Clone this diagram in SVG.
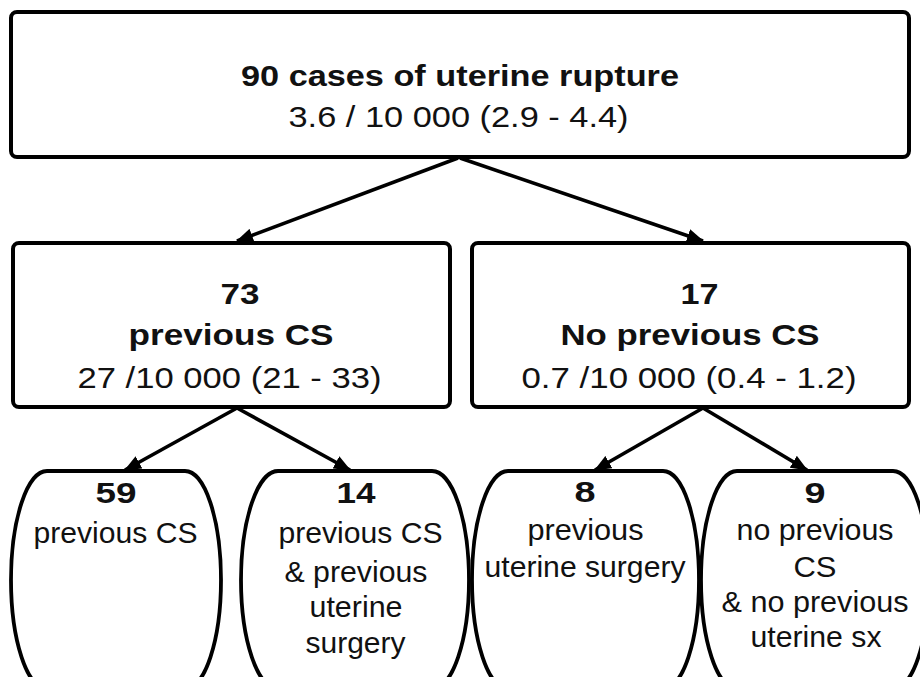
<svg xmlns="http://www.w3.org/2000/svg" width="920" height="677" viewBox="0 0 920 677">
<style>
.box{fill:#fff;stroke:#000;stroke-width:4}
.leaf{fill:#fff;stroke:#000;stroke-width:3.8}
.b{font-family:"Liberation Sans",Arial,sans-serif;font-weight:bold;font-size:30px;fill:#111;text-anchor:middle}
.r{font-family:"Liberation Sans",Arial,sans-serif;font-size:30px;fill:#111;text-anchor:middle}
.s{font-family:"Liberation Sans",Arial,sans-serif;font-size:29px;fill:#111;text-anchor:middle}
.c{stroke:#000;stroke-width:3.6;fill:none;marker-end:url(#ah)}
</style>
<defs>
<marker id="ah" markerUnits="userSpaceOnUse" markerWidth="18" markerHeight="14" refX="16" refY="7" orient="auto">
<path d="M0,0 L17,7 L0,14 z" fill="#000"/>
</marker>
</defs>
<rect width="920" height="677" fill="#fff"/>
<g id="connectors">
<line class="c" x1="458" y1="158" x2="237" y2="241"/>
<line class="c" x1="460" y1="158" x2="703" y2="241"/>
<line class="c" x1="237" y1="408" x2="125" y2="470"/>
<line class="c" x1="237" y1="408" x2="350" y2="470"/>
<line class="c" x1="703" y1="408" x2="595" y2="470"/>
<line class="c" x1="703" y1="408" x2="807" y2="470"/>
</g>
<g id="node-total">
<rect class="box" x="11" y="12" width="898" height="145" rx="6"/>
<text class="b" x="460" y="86" textLength="438" lengthAdjust="spacingAndGlyphs">90 cases of uterine rupture</text>
<text class="r" x="458.5" y="127" textLength="340" lengthAdjust="spacingAndGlyphs">3.6 / 10 000 (2.9 - 4.4)</text>
</g>
<g id="node-prevcs">
<rect class="box" x="13" y="243" width="437" height="164" rx="6"/>
<text class="b" x="240" y="304" textLength="39" lengthAdjust="spacingAndGlyphs">73</text>
<text class="b" x="231" y="345" textLength="205" lengthAdjust="spacingAndGlyphs">previous CS</text>
<text class="r" x="229.5" y="388" textLength="304" lengthAdjust="spacingAndGlyphs">27 /10 000 (21 - 33)</text>
</g>
<g id="node-noprevcs">
<rect class="box" x="472" y="243" width="437" height="164" rx="6"/>
<text class="b" x="699.5" y="304" textLength="38" lengthAdjust="spacingAndGlyphs">17</text>
<text class="b" x="690" y="345" textLength="259" lengthAdjust="spacingAndGlyphs">No previous CS</text>
<text class="r" x="689" y="388" textLength="335" lengthAdjust="spacingAndGlyphs">0.7 /10 000 (0.4 - 1.2)</text>
</g>
<g id="leaf-59">
<rect class="leaf" x="11" y="471" width="210" height="218" rx="36" ry="109"/>
<text class="b" x="116" y="503" textLength="41" lengthAdjust="spacingAndGlyphs">59</text>
<text class="s" x="115.5" y="543" textLength="164" lengthAdjust="spacingAndGlyphs">previous CS</text>
</g>
<g id="leaf-14">
<rect class="leaf" x="241" y="471" width="228" height="218" rx="37" ry="109"/>
<text class="b" x="356" y="503" textLength="39" lengthAdjust="spacingAndGlyphs">14</text>
<text class="s" x="360.5" y="543" textLength="164" lengthAdjust="spacingAndGlyphs">previous CS</text>
<text class="s" x="356" y="582" textLength="143" lengthAdjust="spacingAndGlyphs">&amp; previous</text>
<text class="s" x="356" y="617" textLength="93" lengthAdjust="spacingAndGlyphs">uterine</text>
<text class="s" x="355.5" y="653" textLength="100" lengthAdjust="spacingAndGlyphs">surgery</text>
</g>
<g id="leaf-8">
<rect class="leaf" x="472" y="471" width="227" height="218" rx="36" ry="109"/>
<text class="b" x="585" y="502" textLength="21" lengthAdjust="spacingAndGlyphs">8</text>
<text class="s" x="585.5" y="540" textLength="116" lengthAdjust="spacingAndGlyphs">previous</text>
<text class="s" x="585" y="577" textLength="201" lengthAdjust="spacingAndGlyphs">uterine surgery</text>
</g>
<g id="leaf-9">
<rect class="leaf" x="701" y="471" width="228" height="218" rx="36" ry="109"/>
<text class="b" x="815" y="503" textLength="21" lengthAdjust="spacingAndGlyphs">9</text>
<text class="s" x="815" y="540" textLength="157" lengthAdjust="spacingAndGlyphs">no previous</text>
<text class="s" x="815" y="577" textLength="43" lengthAdjust="spacingAndGlyphs">CS</text>
<text class="s" x="815" y="612" textLength="187" lengthAdjust="spacingAndGlyphs">&amp; no previous</text>
<text class="s" x="816" y="647" textLength="131" lengthAdjust="spacingAndGlyphs">uterine sx</text>
</g>
</svg>
